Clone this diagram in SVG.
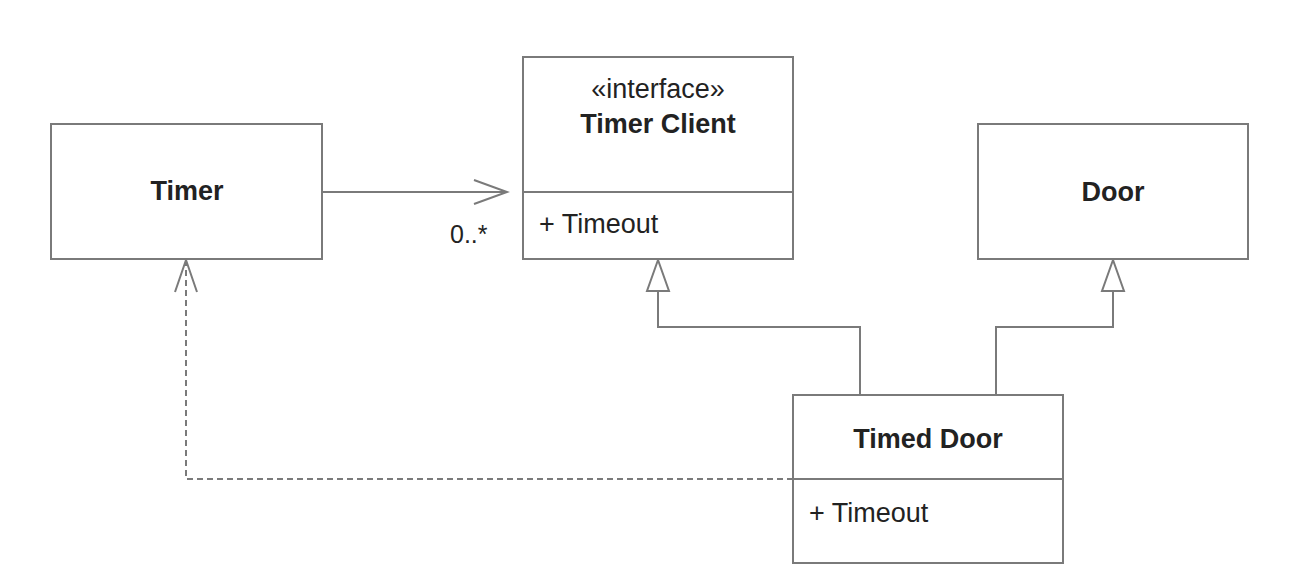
<svg xmlns="http://www.w3.org/2000/svg" width="1314" height="582" viewBox="0 0 1314 582">
<style>
.box{fill:#ffffff;stroke:#7a7a7a;stroke-width:2}
.ln{fill:none;stroke:#7a7a7a;stroke-width:2}
.dash{fill:none;stroke:#7a7a7a;stroke-width:2;stroke-dasharray:6 4}
.t{font-family:"Liberation Sans",Arial,sans-serif;fill:#222222;font-size:27px}
.b{font-weight:bold;text-anchor:middle}
.c{text-anchor:middle}
.tri{fill:#ffffff;stroke:#7a7a7a;stroke-width:2}
</style>
<rect width="1314" height="582" fill="#ffffff"/>
<g id="connectors">
  <line class="ln" x1="322" y1="192" x2="507" y2="192"/>
  <polyline class="ln" points="474,180 507,192 474,204"/>
  <text class="t" x="450" y="243" style="font-size:25px">0..*</text>
  <polyline class="ln" points="860,395 860,327 658,327 658,291"/>
  <polygon class="tri" points="658,260 647,291 669,291"/>
  <polyline class="ln" points="996,395 996,327 1113,327 1113,291"/>
  <polygon class="tri" points="1113,260 1102,291 1124,291"/>
  <polyline class="dash" points="793,479 186,479 186,261"/>
  <polyline class="ln" points="175,292 186,260 197,292"/>
</g>
<g id="timer">
  <rect class="box" x="51" y="124" width="271" height="135"/>
  <text class="t b" x="187" y="200">Timer</text>
</g>
<g id="timer-client">
  <rect class="box" x="523" y="57" width="270" height="202"/>
  <line class="ln" x1="523" y1="192" x2="793" y2="192"/>
  <text class="t c" x="658" y="98">«interface»</text>
  <text class="t b" x="658" y="133">Timer Client</text>
  <text class="t" x="539" y="233">+ Timeout</text>
</g>
<g id="door">
  <rect class="box" x="978" y="124" width="270" height="135"/>
  <text class="t b" x="1113" y="201">Door</text>
</g>
<g id="timed-door">
  <rect class="box" x="793" y="395" width="270" height="168"/>
  <line class="ln" x1="793" y1="479" x2="1063" y2="479"/>
  <text class="t b" x="928" y="448">Timed Door</text>
  <text class="t" x="809" y="522">+ Timeout</text>
</g>
</svg>
